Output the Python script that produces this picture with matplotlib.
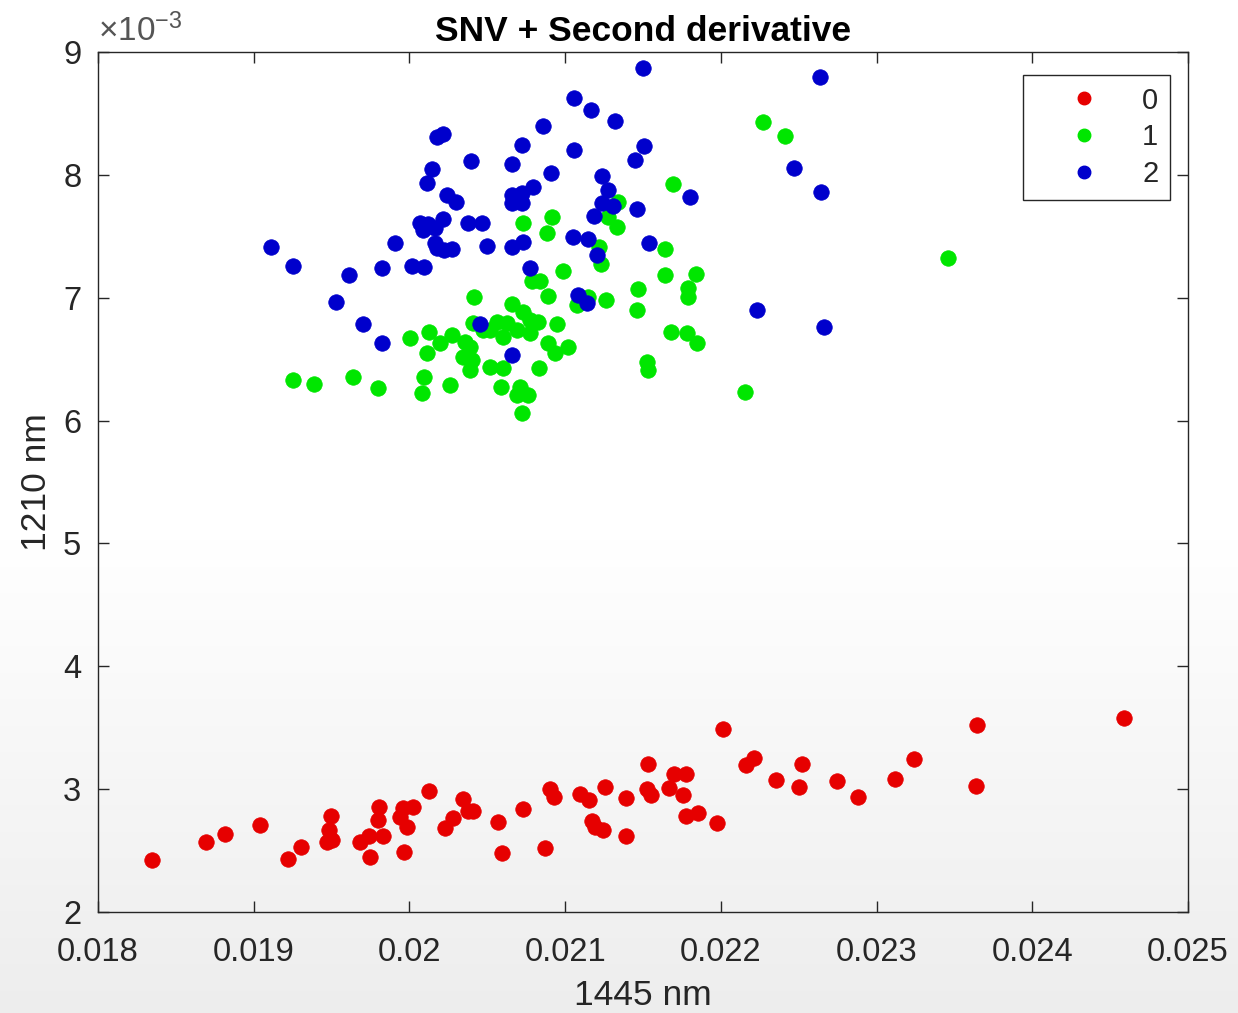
import numpy as np
import matplotlib
matplotlib.use("Agg")
import matplotlib.pyplot as plt
from matplotlib.lines import Line2D

plt.rcParams['font.family'] = ['Liberation Sans', 'DejaVu Sans']
plt.rcParams['mathtext.fontset'] = 'custom'
plt.rcParams['mathtext.rm'] = 'Liberation Sans'
plt.rcParams['mathtext.it'] = 'Liberation Sans'

# ---- data (x: 1445 nm, y: 1210 nm in units of 1e-3) ----
x0 = [18.347, 18.694, 18.816, 19.040, 19.220, 19.304, 19.496, 19.484, 19.471, 19.503,
      19.683, 19.740, 19.747, 19.805, 19.798, 19.830, 19.939, 19.959, 20.023, 19.984,
      19.965, 20.126, 20.228, 20.280, 20.344, 20.376, 20.408, 20.569, 20.595, 20.729,
      20.871, 20.903, 20.928, 21.095, 21.153, 21.256, 21.391, 21.173, 21.192, 21.243,
      21.391, 21.532, 21.526, 21.551, 21.667, 21.699, 21.776, 21.757, 21.776, 21.853,
      21.975, 22.014, 22.162, 22.213, 22.354, 22.502, 22.521, 22.746, 22.881, 23.118,
      23.241, 23.645, 23.639, 24.589]
y0 = [2.423, 2.570, 2.635, 2.708, 2.431, 2.529, 2.781, 2.667, 2.570, 2.586,
      2.570, 2.619, 2.448, 2.855, 2.749, 2.619, 2.773, 2.846, 2.855, 2.692,
      2.488, 2.985, 2.684, 2.765, 2.920, 2.822, 2.822, 2.733, 2.480, 2.838,
      2.521, 3.001, 2.936, 2.960, 2.912, 3.017, 2.928, 2.741, 2.692, 2.667,
      2.619, 3.205, 3.001, 2.952, 3.009, 3.123, 3.123, 2.952, 2.781, 2.806,
      2.724, 3.490, 3.196, 3.253, 3.074, 3.017, 3.205, 3.066, 2.936, 3.083,
      3.245, 3.522, 3.026, 3.579]

x1 = [21.693, 21.340, 20.916, 20.729, 20.884, 21.275, 21.333, 21.641, 21.217, 21.230,
      20.986, 21.641, 21.840, 21.468, 21.789, 21.789, 20.787, 20.839, 20.890, 20.415,
      21.262, 21.076, 21.147, 21.462, 20.659, 20.729, 20.774, 20.562, 20.627, 20.601,
      20.826, 20.948, 20.408, 20.126, 20.273, 20.357, 20.389, 20.196, 20.004, 20.473,
      20.517, 20.691, 20.774, 20.890, 20.935, 21.018, 20.113, 20.344, 20.402, 20.389,
      20.517, 20.601, 20.832, 21.680, 21.783, 21.847, 21.526, 21.532, 19.252, 19.387,
      19.638, 19.798, 20.094, 20.081, 20.261, 20.588, 20.710, 20.691, 20.762, 20.723,
      22.271, 22.412, 22.155, 23.459]
y1 = [7.925, 7.779, 7.657, 7.608, 7.527, 7.657, 7.575, 7.396, 7.413, 7.274,
      7.217, 7.185, 7.193, 7.071, 7.079, 7.006, 7.136, 7.136, 7.014, 7.006,
      6.981, 6.941, 7.006, 6.900, 6.949, 6.884, 6.818, 6.802, 6.794, 6.680,
      6.802, 6.786, 6.794, 6.721, 6.696, 6.639, 6.599, 6.631, 6.672, 6.737,
      6.737, 6.737, 6.713, 6.631, 6.550, 6.599, 6.550, 6.517, 6.493, 6.412,
      6.436, 6.428, 6.428, 6.721, 6.713, 6.631, 6.477, 6.412, 6.330, 6.298,
      6.355, 6.265, 6.355, 6.224, 6.289, 6.273, 6.273, 6.208, 6.208, 6.062,
      8.430, 8.316, 6.232, 7.323]

x2 = [21.500, 21.057, 21.166, 21.320, 20.858, 20.177, 20.216, 20.723, 21.057, 21.506,
      21.449, 20.395, 20.659, 20.145, 20.113, 20.909, 21.237, 21.275, 20.794, 20.659,
      20.723, 20.659, 20.723, 20.241, 20.299, 21.802, 21.237, 21.307, 21.462, 21.185,
      20.216, 20.068, 20.119, 20.087, 20.164, 20.376, 20.466, 21.051, 21.147, 20.729,
      20.659, 21.539, 19.907, 20.164, 20.177, 20.222, 20.273, 20.498, 19.111, 21.205,
      19.252, 19.824, 20.017, 20.094, 19.612, 20.774, 21.083, 21.140, 19.528, 19.702,
      20.453, 19.824, 20.659, 22.637, 22.470, 22.643, 22.232, 22.662]
y2 = [8.870, 8.625, 8.528, 8.438, 8.398, 8.308, 8.332, 8.243, 8.202, 8.235,
      8.121, 8.113, 8.088, 8.048, 7.934, 8.015, 7.991, 7.877, 7.901, 7.836,
      7.852, 7.771, 7.771, 7.836, 7.779, 7.820, 7.771, 7.746, 7.722, 7.665,
      7.641, 7.608, 7.600, 7.551, 7.567, 7.608, 7.608, 7.494, 7.478, 7.453,
      7.413, 7.445, 7.445, 7.445, 7.405, 7.388, 7.396, 7.421, 7.413, 7.348,
      7.258, 7.242, 7.258, 7.250, 7.185, 7.242, 7.022, 6.957, 6.965, 6.786,
      6.786, 6.631, 6.534, 8.796, 8.056, 7.860, 6.900, 6.762]

groups = ['0', '1', '2']
colors = ['#e60000', '#00e600', '#0000cc']

x_ticks = [0.018, 0.019, 0.020, 0.021, 0.022, 0.023, 0.024, 0.025]
x_ticklabels = ['0.018', '0.019', '0.02', '0.021', '0.022', '0.023', '0.024', '0.025']
y_ticks = [2, 3, 4, 5, 6, 7, 8, 9]

W, H = 1238, 1013
fig = plt.figure(figsize=(W / 100, H / 100), dpi=100)

# subtle screenshot-like background gradient
bg = fig.add_axes([0, 0, 1, 1], zorder=-10)
grad = np.ones(H)
rows = np.arange(H)
start = 540
grad[start:] = 1 - 0.07 * ((rows[start:] - start) / (H - start))
bg.imshow(grad[:, None, None] * np.ones((H, 1, 3)), aspect='auto',
          extent=[0, 1, 0, 1], origin='upper')
bg.axis('off')

left, right, bottom, top = 98 / W, 1188 / W, (H - 912) / H, (H - 52) / H
ax = fig.add_axes([left, bottom, right - left, top - bottom])
ax.set_facecolor('none')

xs = [x0, x1, x2]
ys = [y0, y1, y2]
for g, c, xv, yv in zip(groups, colors, xs, ys):
    ax.scatter(np.array(xv) * 1e-3, np.array(yv) * 1e-3, s=125, c=c,
               edgecolors=c, linewidths=0.5, label=g, zorder=3)

ax.set_xlim(0.018, 0.025)
ax.set_ylim(0.002, 0.009)
ax.set_xticks(x_ticks)
ax.set_xticklabels(x_ticklabels)
ax.set_yticks([v * 1e-3 for v in y_ticks])
ax.set_yticklabels([str(v) for v in y_ticks])

tc = '#262626'
ax.tick_params(direction='in', length=8, width=1, top=True, right=True,
               labelsize=23.5, colors=tc)
ax.tick_params(axis='x', pad=18)
ax.tick_params(axis='y', pad=12)
for sp in ax.spines.values():
    sp.set_color(tc)
    sp.set_linewidth(1.0)

ax.set_xlabel('1445 nm', fontsize=25.5, color=tc, labelpad=8)
ax.set_ylabel('1210 nm', fontsize=25.5, color=tc, labelpad=7)
ax.set_title('SNV + Second derivative', fontsize=25.5, fontweight='bold',
             color='black', pad=8)
ax.text(0.0, 1.004, r'$\times10^{-3}$', transform=ax.transAxes, fontsize=24,
        color='#555555', ha='left', va='bottom')

handles = [Line2D([], [], ls='none', marker='o', markersize=9, color=c,
                  markeredgecolor=c) for c in colors]
leg = ax.legend(handles, groups, loc='upper right',
                bbox_to_anchor=((1170 - 98) / 1090, (912 - 75) / 860),
                borderaxespad=0, fontsize=21, frameon=True, fancybox=False,
                edgecolor=tc, handlelength=3.4, handletextpad=0.3,
                labelspacing=0.3, borderpad=0.4, framealpha=1)
leg.get_frame().set_linewidth(1.0)
for t in leg.get_texts():
    t.set_color(tc)

fig.savefig('out.png', dpi=100)
